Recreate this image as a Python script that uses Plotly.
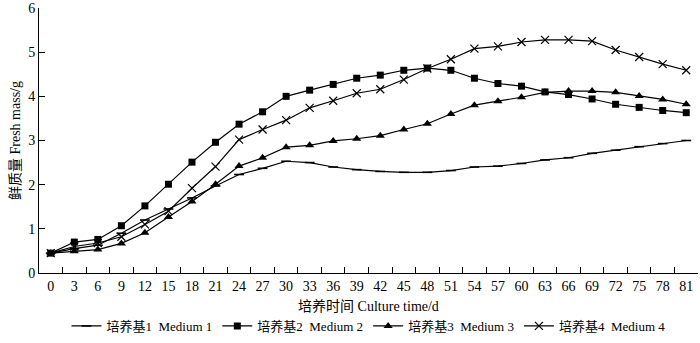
import plotly.graph_objects as go

days = [0, 3, 6, 9, 12, 15, 18, 21, 24, 27, 30, 33, 36, 39, 42, 45, 48, 51, 54, 57, 60, 63, 66, 69, 72, 75, 78, 81]
medium1 = [0.45, 0.55, 0.63, 0.90, 1.20, 1.45, 1.70, 1.97, 2.23, 2.37, 2.53, 2.50, 2.40, 2.34, 2.30, 2.28, 2.28, 2.32, 2.40, 2.42, 2.48, 2.56, 2.61, 2.71, 2.78, 2.86, 2.93, 3.00]
medium2 = [0.45, 0.70, 0.76, 1.07, 1.52, 2.01, 2.51, 2.96, 3.37, 3.65, 4.00, 4.14, 4.27, 4.41, 4.48, 4.59, 4.64, 4.59, 4.41, 4.29, 4.23, 4.10, 4.04, 3.94, 3.82, 3.75, 3.68, 3.63]
medium3 = [0.45, 0.49, 0.53, 0.67, 0.91, 1.27, 1.62, 2.01, 2.42, 2.61, 2.85, 2.89, 2.99, 3.04, 3.11, 3.25, 3.38, 3.60, 3.80, 3.89, 3.98, 4.09, 4.12, 4.12, 4.09, 4.01, 3.93, 3.82]
medium4 = [0.45, 0.60, 0.68, 0.82, 1.10, 1.40, 1.92, 2.41, 3.02, 3.25, 3.46, 3.74, 3.90, 4.07, 4.16, 4.38, 4.63, 4.84, 5.08, 5.13, 5.23, 5.28, 5.28, 5.25, 5.05, 4.89, 4.73, 4.59]
names = ["培养基1  Medium 1", "培养基2  Medium 2", "培养基3  Medium 3", "培养基4  Medium 4"]
x_title = "培养时间 Culture time/d"
y_title = "鲜质量 Fresh mass/g"

FONT = "Liberation Serif, Times New Roman, Noto Sans CJK SC, serif"
cats = [str(d) for d in days]

fig = go.Figure()
styles = [
    dict(symbol="line-ew", size=7, line=dict(width=1.6, color="black")),
    dict(symbol="square", size=7),
    dict(symbol="triangle-up", size=8),
    dict(symbol="x-thin", size=8, line=dict(width=1.2, color="black")),
]
for name, vals, st in zip(names, [medium1, medium2, medium3, medium4], styles):
    fig.add_trace(go.Scatter(
        x=cats, y=vals, name=name, mode="lines+markers",
        line=dict(color="black", width=1.2),
        marker=dict(color="black", **st),
    ))

fig.update_layout(
    width=700, height=343,
    margin=dict(l=39, r=2, t=8, b=63),
    paper_bgcolor="white", plot_bgcolor="white",
    font=dict(family=FONT, size=14, color="black"),
    showlegend=True,
    legend=dict(orientation="h", x=0.5, xanchor="center", y=-0.2, yanchor="middle",
                font=dict(size=13), itemwidth=30, tracegroupgap=0, bgcolor="rgba(0,0,0,0)"),
)
fig.update_xaxes(
    type="category", categoryorder="array", categoryarray=cats,
    range=[-0.5, 27.5], showline=True, linecolor="black", linewidth=1,
    ticks="inside", tickson="boundaries", ticklen=6, tickcolor="black",
    showgrid=False, zeroline=False, automargin=False,
    title=dict(text=x_title, font=dict(size=14), standoff=8),
    tickfont=dict(size=14),
)
fig.update_yaxes(
    range=[0, 6], dtick=1, showline=True, linecolor="black", linewidth=1,
    ticks="inside", ticklen=6, tickcolor="black",
    showgrid=False, zeroline=False, automargin=False,
    title=dict(text=y_title, font=dict(size=14), standoff=4),
    tickfont=dict(size=14),
)
fig.write_html("out.html", config={"displayModeBar": False},
               post_script="document.body.style.margin='0';document.body.style.overflow='hidden';")
